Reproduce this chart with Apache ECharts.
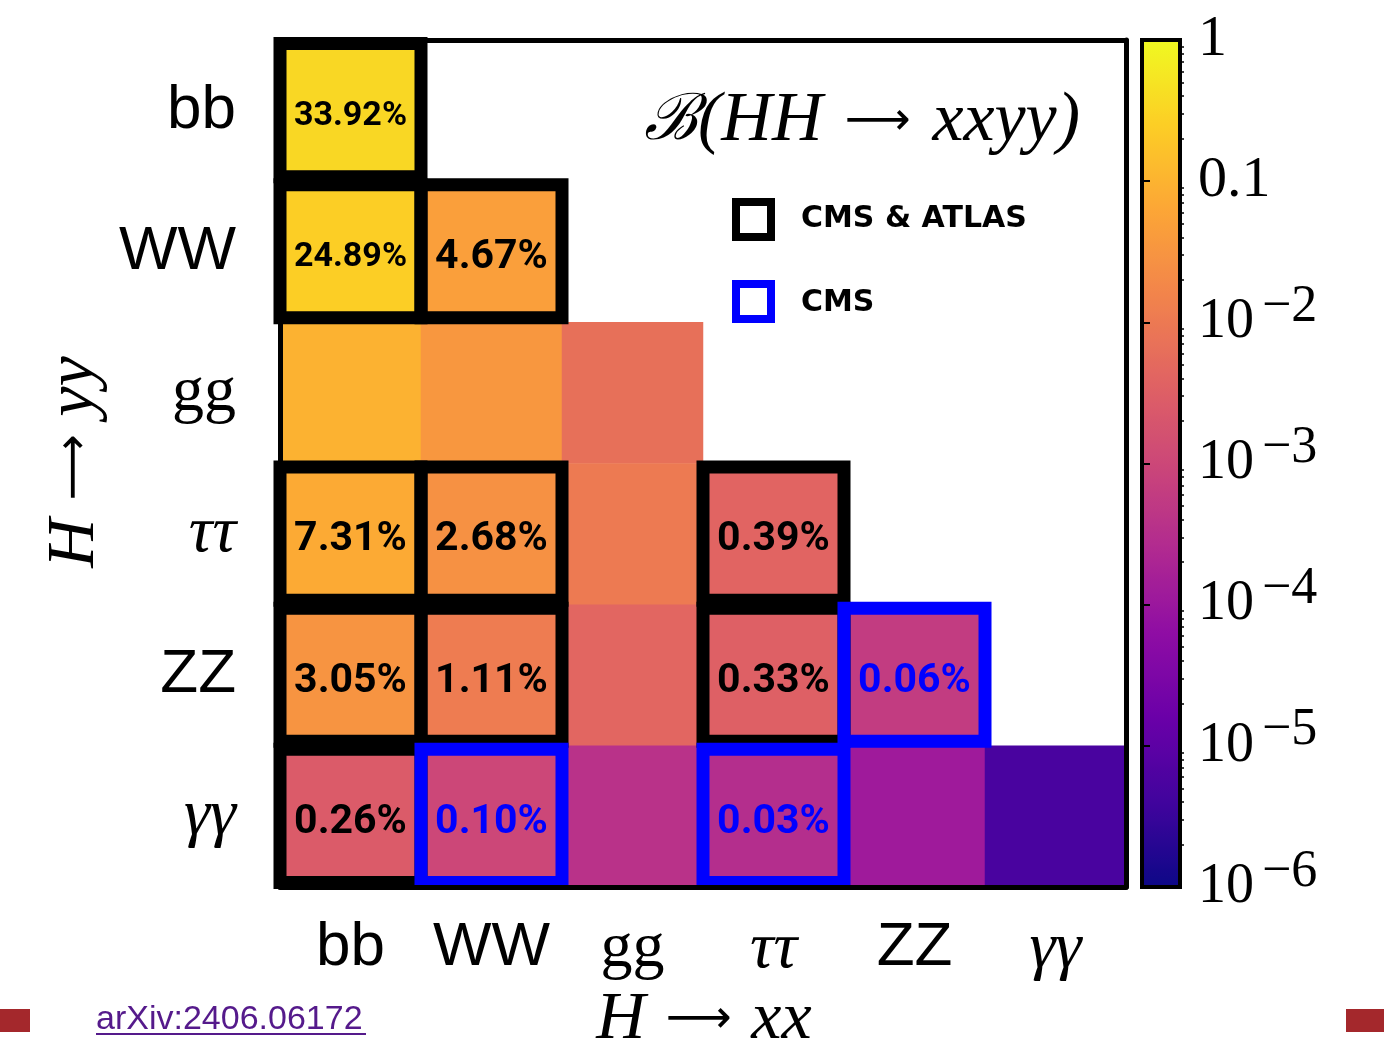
<!DOCTYPE html>
<html><head><meta charset="utf-8">
<script src="https://cdn.jsdelivr.net/npm/echarts@6/dist/echarts.min.js"></script>
<style>html,body{margin:0;padding:0;background:#fff}#c{width:1384px;height:1046px}</style>
</head><body><div id="c"></div>
<script>
// ---- data ----
const decays = ['bb', 'WW', 'gg', 'ττ', 'ZZ', 'γγ'];
// B(HH -> xx yy): one array per row (H -> yy), entries by column (H -> xx)
const rowBB = [0.3392];
const rowWW = [0.2489, 0.0467];
const rowGG = [0.0954, 0.0350, 0.0067];
const rowTT = [0.0731, 0.0268, 0.0103, 0.0039];
const rowZZ = [0.0305, 0.0111, 0.0043, 0.0033, 0.0006];
const rowAA = [0.0026, 0.0010, 0.00037, 0.0003, 0.00012, 0.0000052];
// channels searched, [H->xx, H->yy]
const cmsAtlas = [['bb','bb'],['bb','WW'],['WW','WW'],['bb','ττ'],['WW','ττ'],['ττ','ττ'],['bb','ZZ'],['WW','ZZ'],['ττ','ZZ'],['bb','γγ']];
const cmsOnly = [['ZZ','ZZ'],['WW','γγ'],['ττ','γγ']];
// colorbar decades (log10) and their labels
const cbDecades = [0, -1, -2, -3, -4, -5, -6];
const cbLabels = ['1', '0.1', '10^-2', '10^-3', '10^-4', '10^-5', '10^-6'];
const legendNames = ['CMS & ATLAS', 'CMS'];

// ---- build ----
const rows = [rowBB, rowWW, rowGG, rowTT, rowZZ, rowAA];
const heat = [];
rows.forEach((r, yi) => r.forEach((v, xi) => heat.push({ value: [xi, yi, Math.log10(v)], raw: v })));
function valueAt(x, y) { return rows[decays.indexOf(y)][decays.indexOf(x)]; }
const boxes = [];
cmsAtlas.forEach(p => boxes.push([decays.indexOf(p[0]), decays.indexOf(p[1]), valueAt(p[0], p[1]), 0]));
cmsOnly.forEach(p => boxes.push([decays.indexOf(p[0]), decays.indexOf(p[1]), valueAt(p[0], p[1]), 1]));
const minorTicks = [];
for (let d = -6; d < 0; d++) for (let k = 2; k <= 9; k++) minorTicks.push(d + Math.log10(k));

const plasma = ['#0d0887','#41049d','#6a00a8','#8f0da4','#b12a90','#cc4778','#e16462','#f2844b','#fca636','#fcce25','#f0f921'];
const boxColors = ['#000000', '#0000ff'];

const G = { left: 280, top: 40, width: 846, height: 847 };
const SERIF = '"Liberation Serif", "DejaVu Serif", serif';
const SANS = '"Liberation Sans", "DejaVu Sans", sans-serif';
const ARROWF = '"DejaVu Sans", sans-serif';

function catLabel(n) {
  if (n === 'gg') return '{g|' + n + '}';
  if (n === 'ττ' || n === 'γγ') return '{m|' + n + '}';
  return '{s|' + n + '}';
}
const catRich = {
  s: { fontFamily: SANS, fontSize: 62, color: '#000' },
  g: { fontFamily: SERIF, fontSize: 64, color: '#000' },
  m: { fontFamily: SERIF, fontStyle: 'italic', fontSize: 66, color: '#000' }
};
const frameLine = { show: true, lineStyle: { color: '#000', width: 5 } };

const chart = echarts.init(document.getElementById('c'), null, { renderer: 'canvas' });
chart.setOption({
  animation: false,
  backgroundColor: '#fff',
  grid: [
    { left: G.left, top: G.top, width: G.width, height: G.height },
    { left: 1142, top: 40, width: 38, height: 847, show: true, borderColor: '#000', borderWidth: 4, backgroundColor: 'rgba(0,0,0,0)', z: 10 }
  ],
  xAxis: [
    { type: 'category', gridIndex: 0, data: decays, position: 'bottom', z: 10,
      axisLine: frameLine, axisTick: { show: false }, splitLine: { show: false },
      axisLabel: { interval: 0, margin: 30, formatter: catLabel, rich: catRich } },
    { type: 'category', gridIndex: 0, data: decays, position: 'top', z: 10,
      axisLine: frameLine, axisTick: { show: false }, axisLabel: { show: false } },
    { type: 'value', gridIndex: 1, min: 0, max: 1, show: false }
  ],
  yAxis: [
    { type: 'category', gridIndex: 0, data: decays, inverse: true, position: 'left', z: 10,
      axisLine: frameLine, axisTick: { show: false }, splitLine: { show: false },
      axisLabel: { interval: 0, margin: 44, formatter: catLabel, rich: catRich } },
    { type: 'category', gridIndex: 0, data: decays, inverse: true, position: 'right', z: 10,
      axisLine: frameLine, axisTick: { show: false }, axisLabel: { show: false } },
    { type: 'value', gridIndex: 1, min: -6, max: 0, interval: 1, position: 'right', z: 10,
      axisLine: { show: false }, splitLine: { show: false },
      axisTick: { show: true, length: 8, lineStyle: { color: '#000', width: 2 } },
      axisLabel: { show: true, margin: 18, showMinLabel: true, showMaxLabel: true,
        formatter: v => {
          const s = cbLabels[cbDecades.indexOf(Math.round(v))];
          if (s.indexOf('^') < 0) return '{n|' + s + '}';
          const p = s.split('^');
          return '{b|' + p[0] + '}{e|' + p[1].replace('-', '−') + '}';
        },
        rich: {
          n: { fontFamily: SERIF, fontSize: 58, color: '#000' },
          b: { fontFamily: SERIF, fontSize: 56, color: '#000' },
          e: { fontFamily: SERIF, fontSize: 52, color: '#000', verticalAlign: 'bottom', padding: [0, 0, 30, 8] }
        } } },
    { type: 'value', gridIndex: 1, min: -6, max: 0, position: 'right', z: 10,
      axisLine: { show: false }, splitLine: { show: false }, axisLabel: { show: false },
      axisTick: { show: true, length: 4, customValues: minorTicks, lineStyle: { color: '#000', width: 1.5 } } }
  ],
  visualMap: {
    type: 'continuous', seriesIndex: 0, dimension: 2, min: -6, max: 0,
    calculable: false, hoverLink: false, text: null, padding: 0,
    left: 1142, top: 40, itemWidth: 38, itemHeight: 847,
    inRange: { color: plasma }
  },
  series: [
    { type: 'heatmap', xAxisIndex: 0, yAxisIndex: 0, data: heat, z: 2,
      itemStyle: { borderWidth: 0 }, emphasis: { disabled: true } },
    { type: 'custom', xAxisIndex: 0, yAxisIndex: 0, data: boxes, z: 5, silent: true,
      renderItem: (params, api) => {
        const c = api.coord([api.value(0), api.value(1)]);
        const s = api.size([1, 1]);
        const kind = api.value(3);
        const col = boxColors[kind];
        const txt = (api.value(2) * 100).toFixed(2) + '%';
        const fs = txt.length > 5 ? 34 : 41;
        return { type: 'group', children: [
          { type: 'rect', shape: { x: c[0] - s[0] / 2, y: c[1] - s[1] / 2 + 3.5, width: s[0], height: s[1] - 8 },
            style: { fill: 'rgba(0,0,0,0)', stroke: col, lineWidth: 13 } },
          { type: 'text', style: { text: txt, x: c[0], y: c[1] + 6, align: 'center', verticalAlign: 'middle',
            fontFamily: 'Roboto, "DejaVu Sans", sans-serif', fontWeight: 'bold', fontSize: fs, fill: col } }
        ] };
      } }
  ],
  graphic: [
    { type: 'text', x: 862, y: 122, z: 20, style: { text: '{c|ℬ}{t|(HH}{a|⟶}{t|xxyy)}', align: 'center', verticalAlign: 'middle',
        rich: { c: { fontFamily: '"DejaVu Serif", serif', fontStyle: 'italic', fontSize: 64, fill: '#000' },
                t: { fontFamily: SERIF, fontStyle: 'italic', fontSize: 70, fill: '#000' },
                a: { fontFamily: ARROWF, fontSize: 46, fill: '#000', padding: [0, 22, 0, 22] } } } },
    { type: 'rect', z: 20, shape: { x: 736, y: 202, width: 35, height: 35 }, style: { fill: 'rgba(0,0,0,0)', stroke: boxColors[0], lineWidth: 8 } },
    { type: 'rect', z: 20, shape: { x: 736, y: 284, width: 35, height: 35 }, style: { fill: 'rgba(0,0,0,0)', stroke: boxColors[1], lineWidth: 8 } },
    { type: 'text', z: 20, x: 801, y: 219, style: { text: legendNames[0], verticalAlign: 'middle', fontFamily: '"DejaVu Sans", sans-serif', fontWeight: 'bold', fontSize: 30, fill: '#000' } },
    { type: 'text', z: 20, x: 801, y: 303, style: { text: legendNames[1], verticalAlign: 'middle', fontFamily: '"DejaVu Sans", sans-serif', fontWeight: 'bold', fontSize: 30, fill: '#000' } },
    { type: 'text', z: 20, x: 704, y: 1020, style: { text: '{t|H}{a|⟶}{t|xx}', align: 'center', verticalAlign: 'middle',
        rich: { t: { fontFamily: SERIF, fontStyle: 'italic', fontSize: 68, fill: '#000' },
                a: { fontFamily: ARROWF, fontSize: 46, fill: '#000', padding: [0, 20, 0, 20] } } } },
    { type: 'text', z: 20, x: 75, y: 462, rotation: Math.PI / 2, style: { text: '{t|H}{a|⟶}{t|yy}', align: 'center', verticalAlign: 'middle',
        rich: { t: { fontFamily: SERIF, fontStyle: 'italic', fontSize: 68, fill: '#000' },
                a: { fontFamily: ARROWF, fontSize: 46, fill: '#000', padding: [0, 18, 0, 18] } } } },
    { type: 'rect', z: 20, shape: { x: 0, y: 1009, width: 30, height: 23 }, style: { fill: '#a4282c' } },
    { type: 'rect', z: 20, shape: { x: 1346, y: 1009, width: 38, height: 23 }, style: { fill: '#a4282c' } },
    { type: 'text', z: 20, x: 96, y: 1020, style: { text: 'arXiv:2406.06172', verticalAlign: 'middle', fontFamily: SANS, fontSize: 34, fill: '#551a8b' } },
    { type: 'line', z: 20, shape: { x1: 96, y1: 1034, x2: 366, y2: 1034 }, style: { stroke: '#551a8b', lineWidth: 2 } }
  ]
});
</script></body></html>
